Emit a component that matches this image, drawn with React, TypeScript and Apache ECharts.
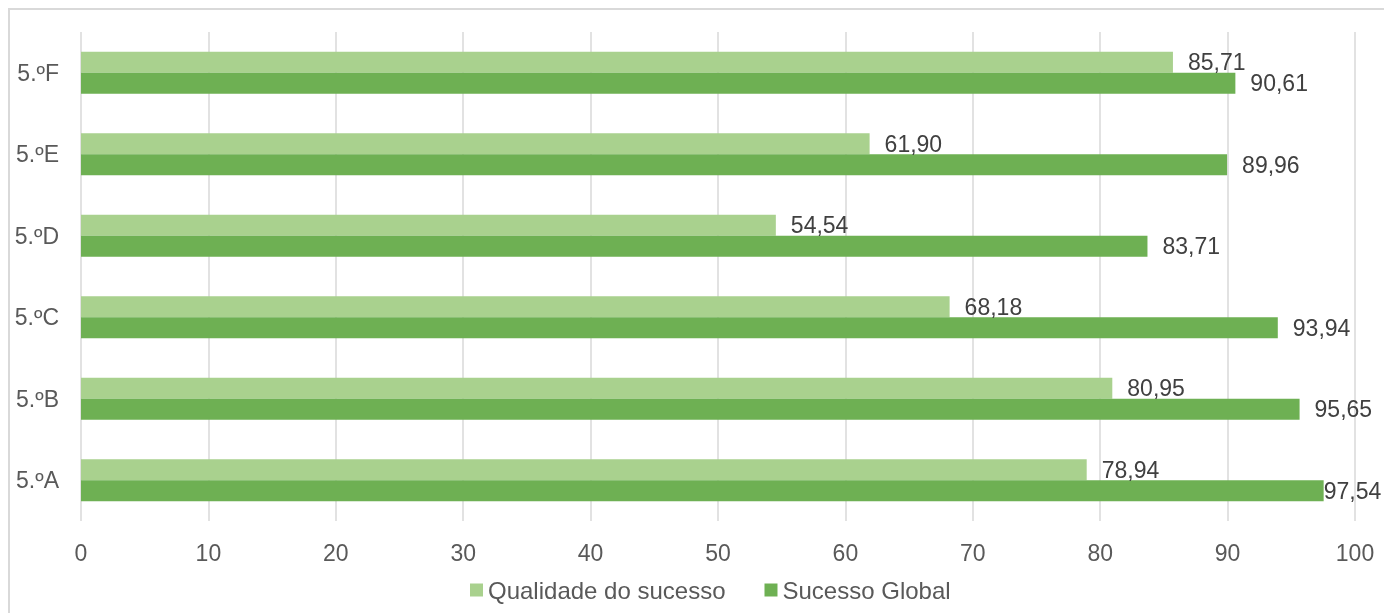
import React, { useEffect, useRef } from "react";
import * as echarts from "echarts";

const categories = ["5.ºA", "5.ºB", "5.ºC", "5.ºD", "5.ºE", "5.ºF"];
const qualidade = [78.94, 80.95, 68.18, 54.54, 61.9, 85.71];
const sucesso = [97.54, 95.65, 93.94, 83.71, 89.96, 90.61];
const seriesNames = ["Qualidade do sucesso", "Sucesso Global"];

const fmt = (v: number) => v.toFixed(2).replace(".", ",");

export default function App() {
  const ref = useRef<HTMLDivElement>(null);
  useEffect(() => {
    if (!ref.current) return;
    const chart = echarts.init(ref.current, undefined, { renderer: "svg" });
    const font = "'Liberation Sans', Arial, sans-serif";
    chart.setOption({
      animation: false,
      textStyle: { fontFamily: font },
      grid: { left: 73, right: 29, top: 24, bottom: 92, containLabel: false },
      legend: {
        data: seriesNames,
        bottom: 6,
        left: 457,
        itemWidth: 13,
        itemHeight: 13,
        itemGap: 39,
        icon: "rect",
        textStyle: { fontSize: 24, color: "#595959", fontFamily: font },
      },
      xAxis: {
        type: "value",
        min: 0,
        max: 100,
        interval: 10,
        axisLine: { show: false },
        axisTick: { show: false },
        splitLine: { lineStyle: { color: "#d9d9d9", width: 1.5 } },
        axisLabel: { fontSize: 23, color: "#595959", margin: 20, fontFamily: font },
      },
      yAxis: {
        type: "category",
        data: categories,
        axisLine: { show: false },
        axisTick: { show: false },
        axisLabel: { fontSize: 23, color: "#595959", margin: 22, fontFamily: font },
      },
      series: [
        {
          name: seriesNames[0],
          type: "bar",
          data: qualidade,
          barWidth: 21,
          barGap: "0%",
          itemStyle: { color: "#A9D18E" },
          label: {
            show: true,
            position: "right",
            distance: 15,
            fontSize: 23,
            color: "#404040",
            fontFamily: font,
            formatter: (p: any) => fmt(p.value),
          },
        },
        {
          name: seriesNames[1],
          type: "bar",
          data: sucesso.map((v) => (v > 97 ? { value: v, label: { distance: 0 } } : v)),
          barWidth: 21,
          barGap: "0%",
          itemStyle: { color: "#6EB053" },
          label: {
            show: true,
            position: "right",
            distance: 15,
            fontSize: 23,
            color: "#404040",
            fontFamily: font,
            formatter: (p: any) => fmt(p.value),
          },
        },
      ],
    });
    return () => chart.dispose();
  }, []);
  return (
    <div
      style={{
        position: "fixed",
        left: 8,
        top: 8,
        width: 1376,
        height: 605,
        overflow: "hidden",
      }}
    >
      <div ref={ref} style={{ position: "absolute", left: 0, top: 0, width: 1376, height: 605 }} />
      <div
        style={{
          position: "absolute",
          left: 0,
          top: 0,
          width: 1376,
          height: 605,
          borderTop: "2px solid #d9d9d9",
          borderLeft: "2px solid #d9d9d9",
          boxSizing: "border-box",
          pointerEvents: "none",
        }}
      />
    </div>
  );
}
